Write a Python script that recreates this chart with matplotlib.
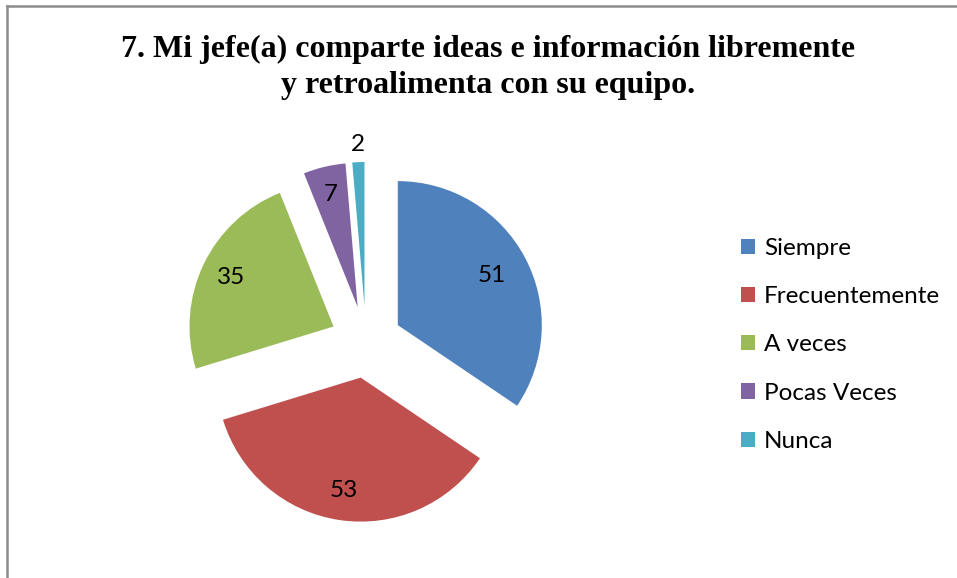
import numpy as np
import matplotlib
matplotlib.use("Agg")
from matplotlib import pyplot as plt

# datos de la pregunta 7
categorias = ["Siempre", "Frecuentemente", "A veces", "Pocas Veces", "Nunca"]
valores = [51, 53, 35, 7, 2]
colores = ["#4F81BD", "#C0504D", "#9BBB59", "#8064A2", "#4BACC6"]
titulo = "7. Mi jefe(a) comparte ideas e información libremente\ny retroalimenta con su equipo."

W, H = 957, 578
fig = plt.figure(figsize=(W / 100, H / 100), dpi=100)

# marco gris (recortado a la derecha y abajo)
fig.add_artist(plt.Line2D([7 / W, 7 / W], [0, 1 - 6 / H], color="#8c8c8c", lw=1.8))
fig.add_artist(plt.Line2D([7 / W, 1], [1 - 6 / H, 1 - 6 / H], color="#8c8c8c", lw=1.8))

fig.text(488 / W, 1 - 67 / H, titulo, ha="center", va="center",
         family="Liberation Serif", weight="bold", fontsize=23, linespacing=1.32)

# pie centrado en (366, 342) px, radio 144 px
cx, cy, r, half = 366, 342, 144, 200
ax = fig.add_axes([(cx - half) / W, (H - cy - half) / H, 2 * half / W, 2 * half / H])
wedges, _ = ax.pie(valores, colors=colores, startangle=90, counterclock=False,
                   explode=[0.25] * len(valores), radius=1,
                   wedgeprops=dict(linewidth=0))
lim = half / r
ax.set_xlim(-lim, lim)
ax.set_ylim(-lim, lim)
ax.set_aspect("equal")

dist = [0.74, 0.79, 0.79, 0.80, 1.12]
for w, v, d in zip(wedges, valores, dist):
    th = np.deg2rad((w.theta1 + w.theta2) / 2)
    x0, y0 = w.center
    ax.text(x0 + d * np.cos(th), y0 + d * np.sin(th), str(v), ha="center", va="center",
            family="Lato", fontsize=17.5)

fig.legend(wedges, categorias, loc="upper left", bbox_to_anchor=(719 / W, 1 - 216 / H),
           frameon=False, prop=dict(family="Lato", size=17.5),
           handlelength=0.58, handleheight=0.58, handletextpad=0.37, labelspacing=1.12)

fig.savefig("out.png", dpi=100, facecolor="white")
